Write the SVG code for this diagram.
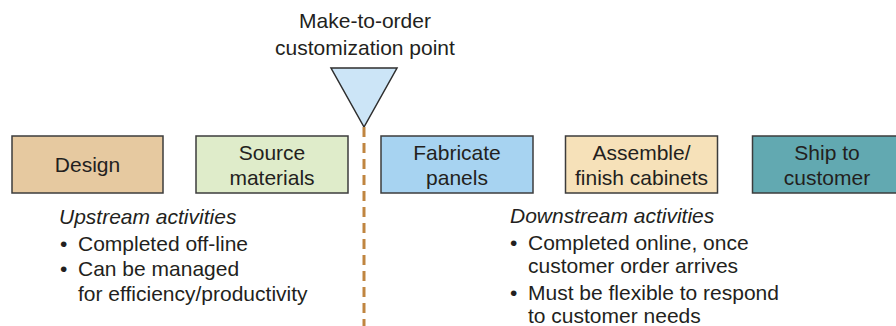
<svg xmlns="http://www.w3.org/2000/svg" width="896" height="326" viewBox="0 0 896 326">
  <style>
    text { font-family: "Liberation Sans", Arial, sans-serif; fill: #231f20; font-size: 21px; }
    .box { stroke: #3c3c3c; stroke-width: 1.5; }
    .mid { text-anchor: middle; }
    .it { font-style: italic; }
  </style>
  <rect width="896" height="326" fill="#ffffff"/>

  <!-- decoupling marker -->
  <g id="customization-point">
    <text class="mid" x="365" y="28">Make-to-order</text>
    <text class="mid" x="365" y="55">customization point</text>
    <polygon points="331,68 397,68 364,127" fill="#cce5f7" stroke="#2e2e2e" stroke-width="1.5"/>
  </g>

  <g id="connectors">
    <line x1="364" y1="127" x2="364" y2="326" stroke="#c08540" stroke-width="3" stroke-dasharray="10 6"/>
  </g>

  <g id="design">
    <rect class="box" x="12" y="136" width="151" height="57" fill="#e6c9a0"/>
    <text class="mid" x="87.5" y="172">Design</text>
  </g>
  <g id="source">
    <rect class="box" x="196" y="136" width="152" height="57" fill="#dfecca"/>
    <text class="mid" x="272" y="160">Source</text>
    <text class="mid" x="272" y="185">materials</text>
  </g>
  <g id="fabricate">
    <rect class="box" x="381" y="136" width="152" height="57" fill="#a7d3f1"/>
    <text class="mid" x="457" y="160">Fabricate</text>
    <text class="mid" x="457" y="185">panels</text>
  </g>
  <g id="assemble">
    <rect class="box" x="565.5" y="136" width="152" height="57" fill="#f6e1b9"/>
    <text class="mid" x="641.5" y="160">Assemble/</text>
    <text class="mid" x="641.5" y="185">finish cabinets</text>
  </g>
  <g id="ship">
    <rect class="box" x="752.5" y="136" width="152" height="57" fill="#62a9b1"/>
    <text class="mid" x="827" y="160">Ship to</text>
    <text class="mid" x="827" y="185">customer</text>
  </g>

  <g id="upstream">
    <text class="it" x="59" y="224">Upstream activities</text>
    <text x="60" y="251">•</text>
    <text x="78" y="251">Completed off-line</text>
    <text x="60" y="276">•</text>
    <text x="78" y="276">Can be managed</text>
    <text x="78" y="301">for efficiency/productivity</text>
  </g>

  <g id="downstream">
    <text class="it" x="510" y="223">Downstream activities</text>
    <text x="510" y="250">•</text>
    <text x="528" y="250">Completed online, once</text>
    <text x="528" y="273">customer order arrives</text>
    <text x="510" y="300">•</text>
    <text x="528" y="300">Must be flexible to respond</text>
    <text x="528" y="323">to customer needs</text>
  </g>
</svg>
